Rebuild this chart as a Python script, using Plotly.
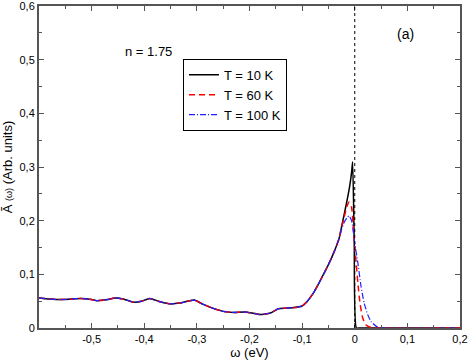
import plotly.graph_objects as go

# common low-energy part (all temperatures overlap here)
omega_common = [-0.6, -0.58, -0.56, -0.54, -0.52, -0.5, -0.49, -0.47, -0.455, -0.44,
                -0.42, -0.405, -0.39, -0.37, -0.35, -0.33, -0.305, -0.29, -0.27, -0.25,
                -0.23, -0.21, -0.195, -0.18, -0.16, -0.145, -0.13, -0.115, -0.1, -0.09,
                -0.08, -0.07, -0.06, -0.05, -0.04, -0.03]
a_common = [0.056, 0.054, 0.053, 0.054, 0.055, 0.053, 0.051, 0.053, 0.056, 0.054,
            0.048, 0.050, 0.055, 0.049, 0.045, 0.047, 0.052, 0.045, 0.037, 0.031,
            0.029, 0.030, 0.028, 0.025, 0.028, 0.036, 0.037, 0.038, 0.041, 0.050,
            0.063, 0.080, 0.099, 0.118, 0.140, 0.166]

# near the Fermi level
omega_10 = [-0.025, -0.02, -0.015, -0.01, -0.006, -0.004, -0.001, 0.003, 0.01, 0.2]
a_10 = [0.189, 0.212, 0.236, 0.262, 0.29, 0.31, 0.16, 0.0, 0.0, 0.0]

omega_60 = [-0.025, -0.02, -0.015, -0.011, -0.006, -0.003, 0.0, 0.003, 0.006, 0.01,
            0.015, 0.021, 0.028, 0.04, 0.2]
a_60 = [0.187, 0.207, 0.226, 0.235, 0.225, 0.19, 0.151, 0.118, 0.083, 0.046,
        0.019, 0.006, 0.002, 0.0, 0.0]

omega_100 = [-0.025, -0.02, -0.015, -0.011, -0.006, -0.003, 0.0, 0.006, 0.012, 0.018,
             0.025, 0.031, 0.041, 0.05, 0.2]
a_100 = [0.184, 0.197, 0.205, 0.209, 0.2, 0.182, 0.158, 0.121, 0.077, 0.046,
         0.024, 0.012, 0.003, 0.0, 0.0]

x_tickvals = [-0.5, -0.4, -0.3, -0.2, -0.1, 0, 0.1, 0.2]
x_ticktext = ['-0,5', '-0,4', '-0,3', '-0,2', '-0,1', '0', '0,1', '0,2']
y_tickvals = [0, 0.1, 0.2, 0.3, 0.4, 0.5, 0.6]
y_ticktext = ['0', '0,1', '0,2', '0,3', '0,4', '0,5', '0,6']

series = [
    ('T = 10 K', omega_10, a_10, dict(color='black', width=1.5, dash='solid')),
    ('T = 60 K', omega_60, a_60, dict(color='red', width=1.5, dash='6px,4px')),
    ('T = 100 K', omega_100, a_100, dict(color='#1f1fff', width=1.2, dash='6px,2px,1px,2px')),
]

fig = go.Figure()
for name, xs, ys, line in series:
    fig.add_trace(go.Scatter(
        x=omega_common + xs,
        y=a_common + ys,
        mode='lines',
        name=name,
        line=dict(shape='spline', smoothing=0.5, **line),
    ))

fig.add_vline(x=0, line=dict(color='black', width=1, dash='dot'))

axis_style = dict(
    showline=True, linecolor='#555', linewidth=2, mirror='ticks',
    ticks='inside', ticklen=5, tickcolor='#555', tickwidth=1,
    showgrid=False, zeroline=False, automargin=False, ticklabeloverflow='allow',
    tickfont=dict(size=11, color='black'),
    minor=dict(ticks='inside', ticklen=3, tickcolor='#555', dtick=0.05),
)

fig.update_layout(
    width=469, height=360,
    margin=dict(l=39, r=9, t=6, b=32),
    plot_bgcolor='white', paper_bgcolor='white',
    font=dict(family='Liberation Sans, Arial, sans-serif', color='black'),
    xaxis=dict(range=[-0.6, 0.2], tickvals=x_tickvals, ticktext=x_ticktext,
               title=dict(text='ω (eV)', font=dict(size=13)), **axis_style),
    yaxis=dict(range=[0, 0.6], tickvals=y_tickvals, ticktext=y_ticktext,
               title=dict(text="Ã <span style='font-size:9px'>(ω)</span> (Arb. units)",
                          font=dict(size=13)), **axis_style),
    legend=dict(x=0.342, y=0.724, xanchor='left', yanchor='middle',
                bgcolor='white', bordercolor='black', borderwidth=1,
                font=dict(size=13), tracegroupgap=0, itemwidth=30),
    showlegend=True,
    annotations=[
        dict(text='n = 1.75', x=0.2, y=0.888, xref='paper', yref='paper',
             showarrow=False, font=dict(size=13)),
        dict(text='(a)', x=0.895, y=0.944, xref='paper', yref='paper',
             showarrow=False, font=dict(size=14)),
    ],
)

# drop the default page margin so the figure sits at the window corner
fig.write_html("out.html", config={'displayModeBar': False},
               post_script="document.body.style.margin='0';")
